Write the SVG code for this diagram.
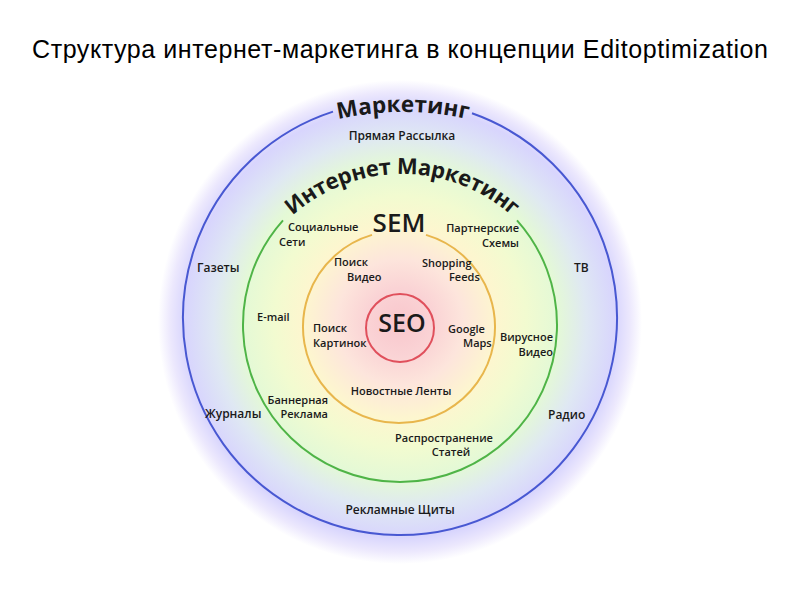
<svg xmlns="http://www.w3.org/2000/svg" width="800" height="600" viewBox="0 0 800 600">
<defs>
  <radialGradient id="bg" gradientUnits="userSpaceOnUse" cx="400" cy="322" r="242">
    <stop offset="0" stop-color="#f8c6cc"/>
    <stop offset="0.14" stop-color="#fad3d5"/>
    <stop offset="0.26" stop-color="#fde5dc"/>
    <stop offset="0.40" stop-color="#fdf6cf"/>
    <stop offset="0.52" stop-color="#f2fbd0"/>
    <stop offset="0.65" stop-color="#e4f9d6"/>
    <stop offset="0.77" stop-color="#dfe8f3"/>
    <stop offset="0.89" stop-color="#d8d5fd"/>
    <stop offset="0.95" stop-color="#ece8fd"/>
    <stop offset="1" stop-color="#ffffff"/>
  </radialGradient>
  <path id="arcMark" d="M 276.2 140.1 A 300 300 0 0 1 529.8 140.1"/>
  <path id="arcInet" d="M 259.1 256.5 A 165 165 0 0 1 544.9 256.5"/>
</defs>
<style>
  .t { font-family: "Open Sans", "Noto Sans", "DejaVu Sans", sans-serif; fill: #1a1a1a; }
  .lbl { font-size: 11px; font-weight: 600; }
  .lbl2 { font-size: 12px; font-weight: 600; }
  .ring { fill: none; stroke-width: 2; }
  .arc { font-size: 22px; font-weight: 700; }
</style>
<rect width="800" height="600" fill="#ffffff"/>
<circle cx="400" cy="322" r="242" fill="url(#bg)"/>

<text x="400" y="58" text-anchor="middle" font-family="'Liberation Sans', Arial, sans-serif" font-size="25" textLength="736" lengthAdjust="spacing" fill="#000">Структура интернет-маркетинга в концепции Editoptimization</text>

<g id="ring-marketing">
  <path class="ring" stroke="#4858d2" d="M 333 111.6 A 217 217 0 1 0 472 113.3"/>
  <text class="t arc" style="font-size:22.5px"><textPath href="#arcMark" startOffset="50%" text-anchor="middle">Маркетинг</textPath></text>
</g>
<g id="ring-internet">
  <path class="ring" stroke="#4fb447" d="M 283 220.3 A 157 157 0 1 0 517 220.3"/>
  <text class="t arc" style="font-size:22px;letter-spacing:-0.3px"><textPath href="#arcInet" startOffset="50%" text-anchor="middle">Интернет Маркетинг</textPath></text>
</g>
<g id="ring-sem">
  <path class="ring" stroke="#e8b64c" d="M 372 234.9 A 96 96 0 1 0 426 234.9"/>
  <text class="t" x="399" y="232" text-anchor="middle" font-size="26" font-weight="600">SEM</text>
</g>
<g id="ring-seo">
  <circle class="ring" stroke="#e0505c" cx="400" cy="328" r="34"/>
  <text class="t" x="402" y="332" text-anchor="middle" font-size="25" font-weight="600">SEO</text>
</g>

<g id="label-pryamaya"><text class="t lbl2" x="402" y="140" text-anchor="middle">Прямая Рассылка</text></g>
<g id="label-gazety"><text class="t lbl2" x="197" y="272">Газеты</text></g>
<g id="label-tv"><text class="t lbl2" x="574" y="272">ТВ</text></g>
<g id="label-zhurnaly"><text class="t lbl2" x="205" y="418">Журналы</text></g>
<g id="label-radio"><text class="t lbl2" x="548" y="419">Радио</text></g>
<g id="label-shchity"><text class="t lbl2" x="400" y="514" text-anchor="middle">Рекламные Щиты</text></g>

<g id="label-social"><text class="t lbl" x="288" y="231">Социальные</text><text class="t lbl" x="279" y="246">Сети</text></g>
<g id="label-partner"><text class="t lbl" x="519" y="232" text-anchor="end">Партнерские</text><text class="t lbl" x="519" y="247" text-anchor="end">Схемы</text></g>
<g id="label-email"><text class="t lbl" x="257" y="321">E-mail</text></g>
<g id="label-viral"><text class="t lbl" x="553" y="341" text-anchor="end">Вирусное</text><text class="t lbl" x="553" y="356" text-anchor="end">Видео</text></g>
<g id="label-banner"><text class="t lbl" x="328" y="404" text-anchor="end">Баннерная</text><text class="t lbl" x="328" y="418" text-anchor="end">Реклама</text></g>
<g id="label-articles"><text class="t lbl" x="444" y="442" text-anchor="middle">Распространение</text><text class="t lbl" x="451" y="456" text-anchor="middle">Статей</text></g>

<g id="label-video-search"><text class="t lbl" x="334" y="266">Поиск</text><text class="t lbl" x="347" y="281">Видео</text></g>
<g id="label-shopping"><text class="t lbl" x="422" y="267">Shopping</text><text class="t lbl" x="449" y="281">Feeds</text></g>
<g id="label-image-search"><text class="t lbl" x="313" y="332">Поиск</text><text class="t lbl" x="313" y="347">Картинок</text></g>
<g id="label-maps"><text class="t lbl" x="448" y="333">Google</text><text class="t lbl" x="463" y="347">Maps</text></g>
<g id="label-news"><text class="t lbl" x="401" y="395" text-anchor="middle">Новостные Ленты</text></g>
</svg>
